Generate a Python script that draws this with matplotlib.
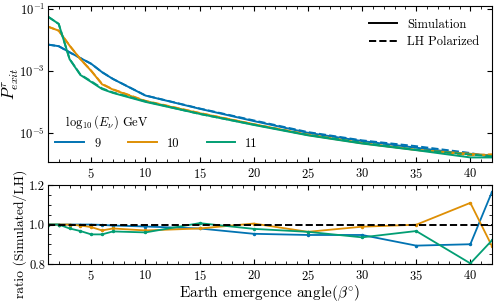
import numpy as np
import matplotlib; matplotlib.use("Agg")
import matplotlib.pyplot as plt
from matplotlib.lines import Line2D
from matplotlib.ticker import MultipleLocator, FixedLocator, NullLocator

plt.rcParams.update({
    "font.family": "serif", "font.serif": ["cmr10"], "mathtext.fontset": "cm",
    "axes.unicode_minus": False, "axes.formatter.use_mathtext": True,
    "xtick.direction": "in", "ytick.direction": "in",
    "xtick.top": True, "ytick.right": True, "font.size": 9,
    "ytick.major.pad": 2.0,
})

# emergence angles (deg)
angle = [1, 2, 3, 4, 5, 6, 7, 10, 15, 20, 25, 30, 35, 40, 42]
energies = ["9", "10", "11"]
colors = ["#0173b2", "#de8f05", "#029e73"]

# simulated exit probability
sim_9  = [7.1e-3, 6.3e-3, 4.0e-3, 2.6e-3, 1.7e-3, 9.1e-4, 5.5e-4, 1.6e-4, 6.0e-5, 2.4e-5, 1.0e-5, 5.4e-6, 3.3e-6, 2.0e-6, 1.9e-6]
sim_10 = [2.7e-2, 2.0e-2, 6.6e-3, 2.4e-3, 1.0e-3, 3.7e-4, 2.5e-4, 1.05e-4, 4.3e-5, 1.9e-5, 8.5e-6, 4.6e-6, 2.8e-6, 2.1e-6, 1.8e-6]
sim_11 = [5.7e-2, 3.3e-2, 2.4e-3, 7.4e-4, 4.4e-4, 2.6e-4, 1.95e-4, 1.0e-4, 4.1e-5, 1.8e-5, 8.3e-6, 4.5e-6, 2.75e-6, 1.6e-6, 1.6e-6]

# ratio simulated / LH polarized
ratio_9  = [1.0, 1.0, 1.0, 1.0, 1.0, 0.998, 0.995, 0.99, 0.98, 0.953, 0.947, 0.947, 0.893, 0.9, 1.166]
ratio_10 = [1.0, 1.0, 1.0, 0.995, 0.987, 0.97, 0.98, 0.97, 0.98, 1.005, 0.963, 0.989, 0.999, 1.11, 0.89]
ratio_11 = [1.0, 1.0, 0.98, 0.967, 0.95, 0.95, 0.965, 0.96, 1.007, 0.978, 0.963, 0.935, 0.967, 0.803, 0.92]

sims = [sim_9, sim_10, sim_11]
ratios = [ratio_9, ratio_10, ratio_11]

fig = plt.figure(figsize=(4.99, 3.02), dpi=100)
ax1 = fig.add_axes([0.096, 0.464, 0.89, 0.516])
ax2 = fig.add_axes([0.096, 0.126, 0.89, 0.261])

x = np.array(angle)
for s, r, c in zip(sims, ratios, colors):
    s = np.array(s); r = np.array(r)
    ax1.plot(x, s, color=c, lw=1.4)
    ax1.plot(x, s / r, color=c, lw=1.4, ls="--")
ax1.set_yscale("log")
ax1.set_ylim(1.15e-6, 0.125)
ax1.set_xlim(1, 42)
ax1.yaxis.set_major_locator(FixedLocator([1e-1, 1e-3, 1e-5]))
ax1.yaxis.set_minor_locator(NullLocator())
ax1.xaxis.set_major_locator(MultipleLocator(5))
ax1.xaxis.set_minor_locator(MultipleLocator(1))
ax1.set_ylabel(r"$P^{\tau}_{exit}$", fontsize=12)
ax1.yaxis.set_label_coords(-0.06, 0.5)

style_leg = ax1.legend([Line2D([], [], color="k", lw=1.4), Line2D([], [], color="k", lw=1.4, ls="--")],
                       ["Simulation", "LH Polarized"], loc="upper right", frameon=False,
                       fontsize=9, handlelength=2.3, borderaxespad=0.6, labelspacing=0.45)
ax1.add_artist(style_leg)
ax1.legend([Line2D([], [], color=c, lw=1.4) for c in colors], energies, ncol=3,
           title=r"$\quad\log_{10}(E_\nu)$ GeV", title_fontsize=9, fontsize=9,
           loc="lower left", bbox_to_anchor=(0.0, 0.03), frameon=False, alignment="left",
           handlelength=2.3, columnspacing=2.2, handletextpad=0.8, borderaxespad=0.2)

for r, c in zip(ratios, colors):
    ax2.plot(x, r, color=c, lw=1.3, marker=".", ms=3)
ax2.axhline(1.0, color="k", ls="--", lw=1.4, zorder=5)
ax2.set_xlim(1, 42)
ax2.set_ylim(0.8, 1.2)
ax2.yaxis.set_major_locator(MultipleLocator(0.2))
ax2.yaxis.set_minor_locator(MultipleLocator(0.05))
ax2.xaxis.set_major_locator(MultipleLocator(5))
ax2.xaxis.set_minor_locator(MultipleLocator(1))
ax2.yaxis.set_major_formatter(plt.FormatStrFormatter("%.1f"))
ax2.set_ylabel("ratio (Simulated/LH)", fontsize=9.8)
ax2.yaxis.set_label_coords(-0.048, 0.38)
ax2.set_xlabel(r"Earth emergence angle($\beta^{\circ}$)", fontsize=11, labelpad=0)

fig.savefig("out.png", dpi=100)
